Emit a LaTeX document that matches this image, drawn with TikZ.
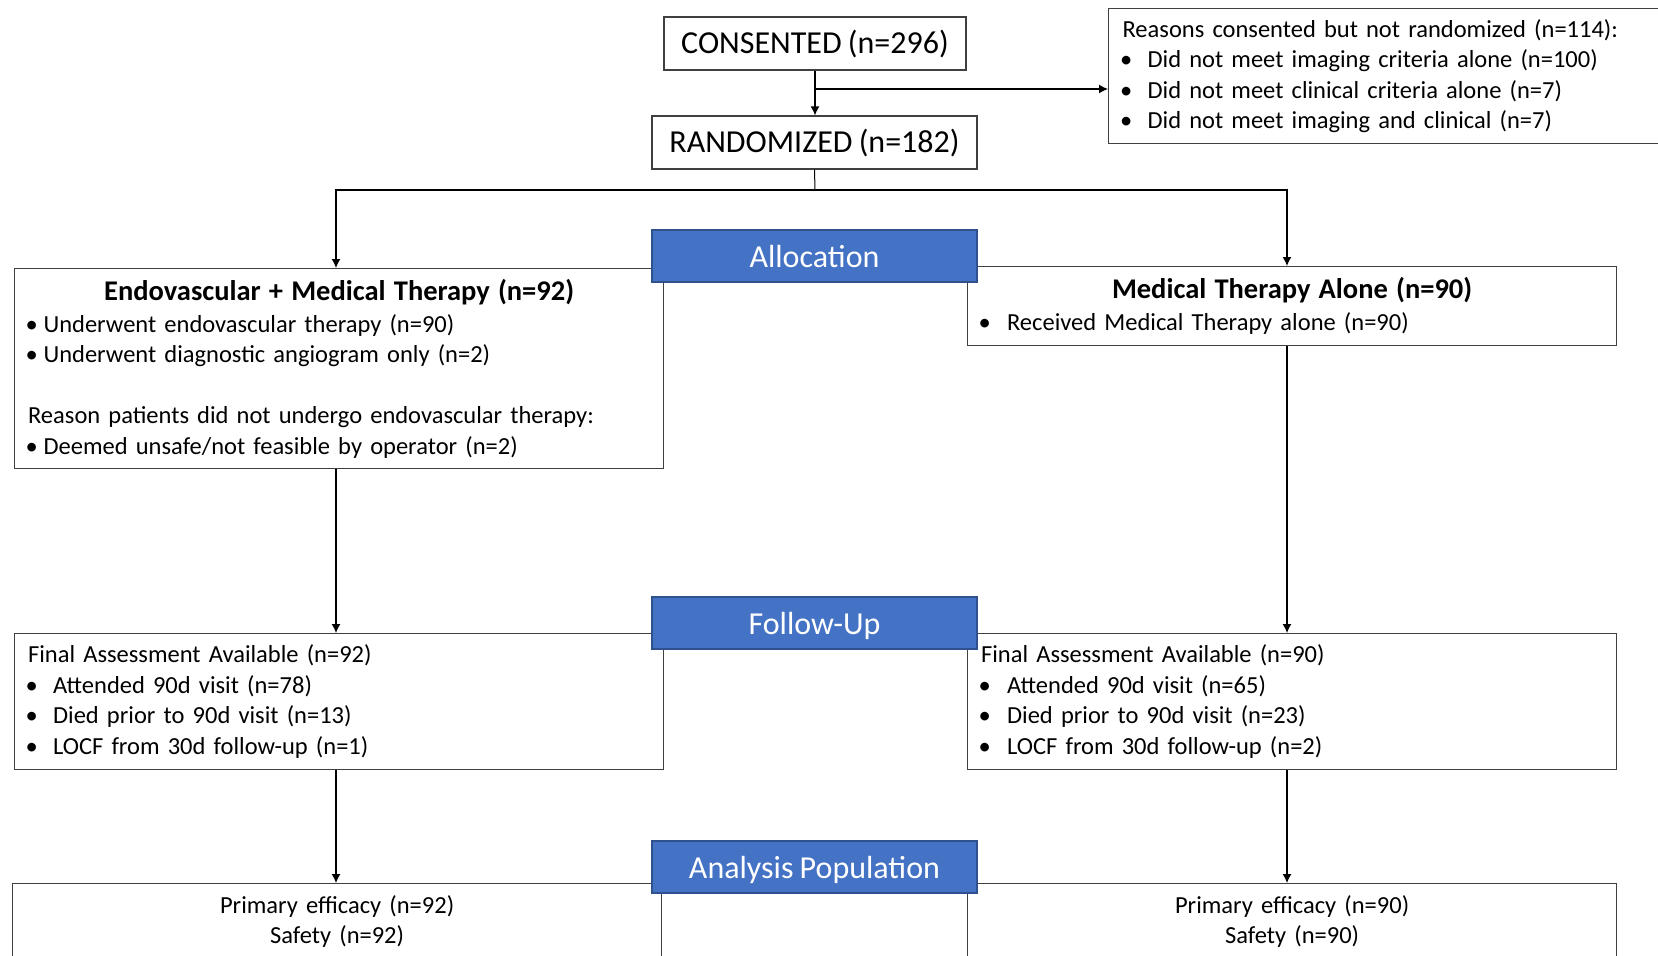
\documentclass[tikz,border=0pt]{standalone}
\usepackage{fontspec}
\setmainfont{Carlito}[WordSpace=0.86]
\usepackage{tikz}
\usetikzlibrary{arrows.meta}
\definecolor{phaseblue}{HTML}{4472C4}
\definecolor{phaseedge}{HTML}{2F528F}
\newcommand{\dotitem}[1][25pt]{\makebox[#1][l]{\hspace{-2.5pt}•}}
\tikzset{
	box/.style={draw=black!75, line width=1.2pt, fill=white, inner xsep=13.5pt, inner ysep=0pt, align=left, anchor=north west, font=\fontsize{24.5}{30.5}\selectfont},
	stage/.style={draw=black!75, line width=1.2pt, fill=white, minimum height=53pt, inner sep=0pt, text height=24pt, text depth=4.5pt, font=\fontsize{32}{38}\selectfont},
	phase/.style={draw=phaseedge, fill=phaseblue, line width=1.2pt, text=white, minimum width=325pt, minimum height=52pt, inner sep=0pt, text height=23.5pt, text depth=0pt, font=\fontsize{32}{38}\selectfont},
	link/.style={line width=1.3pt, -{Latex[length=9pt,width=9pt]}},
	trunk/.style={line width=1pt}
}

\begin{document}
\begin{tikzpicture}[x=1pt,y=-1pt]
			\useasboundingbox (0,0) rectangle (1658,956);
			\clip (0,0) rectangle (1658,956);
			
			\node[stage, minimum width=302pt] (consented) at (815,43.5) {CONSENTED (n=296)};
			\node[stage, minimum width=325pt] (randomized) at (814.5,142.5) {RANDOMIZED (n=182)};
			\node[box, text width=528pt, minimum height=135pt, inner xsep=14pt] (reasons) at (1108,8) {
				Reasons consented but not randomized (n=114):\\
				\dotitem Did not meet imaging criteria alone (n=100)\\
				\dotitem Did not meet clinical criteria alone (n=7)\\
				\dotitem Did not meet imaging and clinical (n=7)};
			
			\node[box, text width=622pt, minimum height=200pt] (endo) at (14,268) {
				\makebox[\linewidth]{\fontsize{28.5}{32}\selectfont\bfseries Endovascular + Medical Therapy (n=92)}\\[1.5pt]
				\dotitem[15.5pt]Underwent endovascular therapy (n=90)\\
				\dotitem[15.5pt]Underwent diagnostic angiogram only (n=2)\\[30.5pt]
				Reason patients did not undergo endovascular therapy:\\
				\dotitem[15.5pt]Deemed unsafe/not feasible by operator (n=2)};
			\node[box, text width=622pt, minimum height=79pt] (medical) at (967,266) {
				\makebox[\linewidth]{\fontsize{28.5}{32}\selectfont\bfseries Medical Therapy Alone (n=90)}\\[1.5pt]
				\dotitem[26pt]Received Medical Therapy alone (n=90)};
			
			\node[box, text width=622pt, minimum height=136pt] (fu-endo) at (14,633) {
				Final Assessment Available (n=92)\\
				\dotitem Attended 90d visit (n=78)\\
				\dotitem Died prior to 90d visit (n=13)\\
				\dotitem LOCF from 30d follow-up (n=1)};
			\node[box, text width=622pt, minimum height=136pt] (fu-medical) at (967,633) {
				Final Assessment Available (n=90)\\
				\dotitem[26pt]Attended 90d visit (n=65)\\
				\dotitem[26pt]Died prior to 90d visit (n=23)\\
				\dotitem[26pt]LOCF from 30d follow-up (n=2)};
			
			\node[box, text width=622pt, minimum height=76pt, align=center] (ana-endo) at (12,883) {Primary efficacy (n=92)\\Safety (n=92)};
			\node[box, text width=622pt, minimum height=76pt, align=center] (ana-medical) at (967,883) {Primary efficacy (n=90)\\Safety (n=90)};
			
			\node[phase] (allocation) at (814.5,256) {Allocation};
			\node[phase] (follow-up) at (814.5,623) {Follow-Up};
			\node[phase] (analysis) at (814.5,867) {Analysis Population};
			
			\coordinate (split) at (815,89);
			\coordinate (branch) at (815,190);
			\coordinate (left-col) at (336,0);
			\coordinate (right-col) at (1287,0);
			\draw[link] (consented.south) -- (consented.south |- randomized.north);
			\draw[link] (split) -- (split -| reasons.west);
			\draw[trunk] (randomized.south) -- (branch);
			\draw[link] (branch) -| (left-col |- endo.north);
			\draw[link] (branch) -| (right-col |- medical.north);
			\draw[link] (left-col |- endo.south) -- (left-col |- fu-endo.north);
			\draw[link] (right-col |- medical.south) -- (right-col |- fu-medical.north);
			\draw[link] (left-col |- fu-endo.south) -- (left-col |- ana-endo.north);
			\draw[link] (right-col |- fu-medical.south) -- (right-col |- ana-medical.north);
			
		\end{tikzpicture}
\end{document}
